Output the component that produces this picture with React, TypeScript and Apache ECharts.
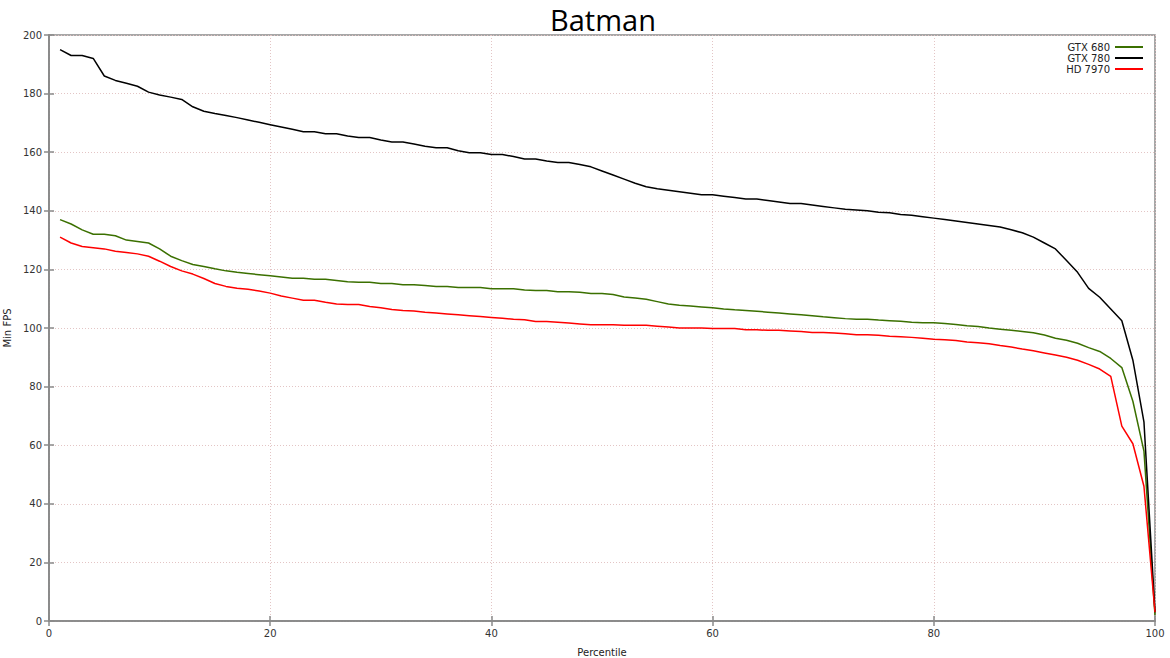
import React, { useEffect, useRef } from "react";
import * as echarts from "echarts";

const percentiles: number[] = Array.from({ length: 100 }, (_, i) => i + 1);

const gtx680: number[] = [
  137, 135.5, 133.5, 132, 132, 131.5, 130, 129.5, 129, 127,
  124.5, 123, 121.7, 121, 120.2, 119.5, 119, 118.6, 118.2, 117.8,
  117.4, 117, 117, 116.6, 116.6, 116.2, 115.8, 115.6, 115.6, 115.2,
  115.2, 114.8, 114.8, 114.5, 114.2, 114.2, 113.8, 113.8, 113.8, 113.4,
  113.4, 113.4, 113, 112.8, 112.8, 112.4, 112.4, 112.2, 111.8, 111.8,
  111.4, 110.6, 110.2, 109.8, 109, 108.2, 107.8, 107.5, 107.2, 106.9,
  106.5, 106.2, 106, 105.7, 105.4, 105.1, 104.8, 104.5, 104.2, 103.8,
  103.5, 103.2, 103, 103, 102.7, 102.5, 102.3, 102, 101.8, 101.8,
  101.5, 101.2, 100.8, 100.5, 100, 99.6, 99.2, 98.8, 98.4, 97.6,
  96.5, 95.8, 94.8, 93.3, 92, 89.6, 86.5, 75, 58, 2,
];

const gtx780: number[] = [
  195, 193, 193, 192, 186, 184.5, 183.5, 182.5, 180.5, 179.5,
  178.8, 178, 175.5, 174, 173.2, 172.5, 171.8, 171, 170.2, 169.4,
  168.6, 167.8, 167, 167, 166.3, 166.3, 165.5, 165, 165, 164.2,
  163.5, 163.5, 162.8, 162, 161.5, 161.5, 160.5, 159.8, 159.8, 159.2,
  159.2, 158.5, 157.7, 157.7, 157, 156.5, 156.5, 155.8, 155, 153.6,
  152.2, 150.8, 149.4, 148.2, 147.5, 147, 146.5, 146, 145.5, 145.5,
  145, 144.5, 144, 144, 143.5, 143, 142.5, 142.5, 142, 141.5,
  141, 140.5, 140.3, 140, 139.5, 139.3, 138.7, 138.5, 138, 137.5,
  137, 136.5, 136, 135.5, 135, 134.5, 133.5, 132.5, 131, 129,
  127, 123, 119, 113.5, 110.5, 106.5, 102.5, 89, 68, 3,
];

const hd7970: number[] = [
  131, 129, 127.8, 127.4, 127, 126.2, 125.8, 125.3, 124.5, 122.8,
  121, 119.5, 118.4, 116.9, 115.2, 114.2, 113.6, 113.2, 112.6, 111.9,
  110.9, 110.2, 109.5, 109.5, 108.8, 108.2, 108, 108, 107.3, 106.9,
  106.3, 106, 105.8, 105.4, 105.1, 104.8, 104.5, 104.2, 103.9, 103.6,
  103.3, 103, 102.8, 102.2, 102.2, 102, 101.7, 101.4, 101.1, 101.1,
  101.1, 100.9, 100.9, 100.9, 100.6, 100.3, 100, 100, 100, 99.8,
  99.8, 99.8, 99.4, 99.4, 99.2, 99.2, 99, 98.8, 98.5, 98.5,
  98.3, 98, 97.7, 97.7, 97.5, 97.2, 97, 96.8, 96.5, 96.2,
  96, 95.7, 95.2, 95, 94.6, 94, 93.5, 92.8, 92.2, 91.5,
  90.8, 90, 89, 87.6, 86, 83.5, 66.5, 60.5, 46, 3,
];

const seriesNames: string[] = ["GTX 680", "GTX 780", "HD 7970"];
const seriesColors: string[] = ["#3b7000", "#000000", "#ff0000"];
const seriesValues: number[][] = [gtx680, gtx780, hd7970];

const FONT = "DejaVu Sans";

export default function App() {
  const ref = useRef<HTMLDivElement>(null);

  useEffect(() => {
    if (!ref.current) return;
    const chart = echarts.init(ref.current, undefined, { renderer: "svg" });
    const axisLineStyle = { color: "#8a8a8a", width: 1.5 };
    const splitLineStyle = { color: "#e3c5c5", type: [1, 2] as any, width: 1 };
    chart.setOption({
      animation: false,
      backgroundColor: "#ffffff",
      title: {
        text: "Batman",
        left: 545,
        top: 0,
        textStyle: { fontFamily: "Open Sans", fontSize: 29, fontWeight: "normal", color: "#000" },
      },
      legend: {
        right: 22,
        top: 37,
        orient: "vertical",
        align: "right",
        itemWidth: 28,
        itemHeight: 2,
        itemGap: 1,
        icon: "rect",
        data: seriesNames,
        textStyle: { fontFamily: FONT, fontSize: 10, color: "#222", padding: [0, 0, 0, 0] },
      },
      grid: {
        left: 49,
        right: 15,
        top: 35,
        bottom: 37,
        outerBoundsMode: "none",
        containLabel: false,
        show: true,
        borderColor: "#8a8a8a",
        borderWidth: 1.5,
      },
      xAxis: [
        {
          type: "value",
          min: 0,
          max: 100,
          interval: 20,
          name: "Percentile",
          nameLocation: "middle",
          nameGap: 26,
          nameTextStyle: { fontFamily: FONT, fontSize: 10, color: "#222" },
          axisLine: { show: true, lineStyle: axisLineStyle },
          axisTick: { show: true, inside: true, length: 5, lineStyle: axisLineStyle },
          axisLabel: { fontFamily: FONT, fontSize: 10, color: "#333", margin: 7 },
          splitLine: { show: true, lineStyle: splitLineStyle },
        },
        {
          type: "value",
          position: "top",
          min: 0,
          max: 100,
          interval: 20,
          axisLine: { show: true, lineStyle: axisLineStyle },
          axisTick: { show: true, inside: true, length: 5, lineStyle: axisLineStyle },
          axisLabel: { show: false },
          splitLine: { show: false },
        },
      ],
      yAxis: [
        {
          type: "value",
          min: 0,
          max: 200,
          interval: 20,
          name: "Min FPS",
          nameLocation: "middle",
          nameGap: 35,
          nameTextStyle: { fontFamily: FONT, fontSize: 10, color: "#222" },
          axisLine: { show: true, lineStyle: axisLineStyle },
          axisTick: { show: true, inside: true, length: 5, lineStyle: axisLineStyle },
          axisLabel: { fontFamily: FONT, fontSize: 10, color: "#333", margin: 7 },
          splitLine: { show: true, lineStyle: splitLineStyle },
        },
        {
          type: "value",
          position: "right",
          min: 0,
          max: 200,
          interval: 20,
          axisLine: { show: true, lineStyle: axisLineStyle },
          axisTick: { show: true, inside: true, length: 5, lineStyle: axisLineStyle },
          axisLabel: { show: false },
          splitLine: { show: false },
        },
      ],
      series: seriesNames.map((name, si) => ({
        name,
        type: "line",
        xAxisIndex: 0,
        yAxisIndex: 0,
        showSymbol: false,
        symbol: "none",
        color: seriesColors[si],
        lineStyle: { color: seriesColors[si], width: 1.5 },
        data: percentiles.map((p, i) => [p, seriesValues[si][i]]),
      })),
    });
    return () => chart.dispose();
  }, []);

  return (
    <div
      ref={ref}
      style={{ position: "fixed", left: 0, top: 0, width: 1170, height: 658 }}
    />
  );
}
